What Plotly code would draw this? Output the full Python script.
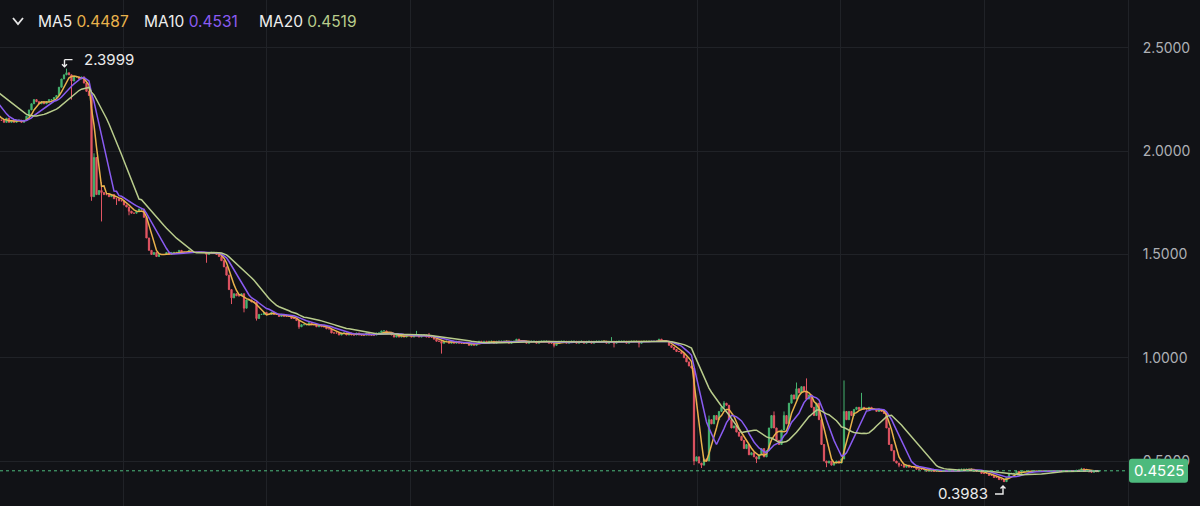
import plotly.graph_objects as go
import pandas as pd

# ---------------- data ----------------
# closes before the visible window (needed so the moving averages start correctly)
history_closes = [2.34, 2.35, 2.33, 2.34, 2.36, 2.35, 2.34, 2.33, 2.34, 2.33,
                  2.30, 2.29, 2.28, 2.26, 2.24, 2.20, 2.18, 2.17, 2.16, 2.15]
first_open = 2.34

closes = [
    2.15, 2.14, 2.16, 2.14, 2.15, 2.14, 2.15, 2.15, 2.14, 2.15, 2.17, 2.20, 2.23, 2.25, 2.24, 2.23, 2.24, 2.23, 2.24, 2.25,
    2.25, 2.26, 2.27, 2.31, 2.35, 2.37, 2.38, 2.37, 2.34, 2.36, 2.36, 2.35, 2.36, 2.33, 2.29, 2.27, 1.78, 1.97, 1.79, 1.81,
    1.80, 1.79, 1.79, 1.78, 1.79, 1.77, 1.77, 1.76, 1.76, 1.74, 1.73, 1.71, 1.70, 1.70, 1.71, 1.72, 1.72, 1.68, 1.58, 1.52,
    1.50, 1.51, 1.49, 1.50, 1.50, 1.50, 1.51, 1.50, 1.51, 1.51, 1.51, 1.52, 1.51, 1.51, 1.51, 1.52, 1.51, 1.51, 1.51, 1.51,
    1.51, 1.51, 1.50, 1.51, 1.51, 1.51, 1.50, 1.49, 1.47, 1.44, 1.40, 1.33, 1.29, 1.31, 1.30, 1.30, 1.31, 1.24, 1.28, 1.28,
    1.27, 1.27, 1.19, 1.21, 1.21, 1.22, 1.21, 1.21, 1.22, 1.21, 1.21, 1.20, 1.21, 1.20, 1.20, 1.20, 1.19, 1.19, 1.18, 1.15,
    1.16, 1.16, 1.16, 1.17, 1.16, 1.16, 1.15, 1.16, 1.15, 1.15, 1.14, 1.14, 1.12, 1.12, 1.12, 1.11, 1.12, 1.12, 1.11, 1.12,
    1.11, 1.11, 1.12, 1.11, 1.11, 1.11, 1.12, 1.11, 1.11, 1.11, 1.12, 1.12, 1.13, 1.13, 1.12, 1.12, 1.11, 1.10, 1.11, 1.10,
    1.11, 1.10, 1.11, 1.11, 1.10, 1.11, 1.11, 1.10, 1.11, 1.11, 1.10, 1.10, 1.10, 1.09, 1.08, 1.08, 1.07, 1.08, 1.08, 1.07,
    1.08, 1.07, 1.08, 1.07, 1.07, 1.07, 1.07, 1.06, 1.07, 1.06, 1.07, 1.08, 1.07, 1.08, 1.07, 1.08, 1.08, 1.07, 1.08, 1.08,
    1.08, 1.08, 1.08, 1.07, 1.08, 1.08, 1.09, 1.08, 1.08, 1.08, 1.07, 1.08, 1.08, 1.08, 1.07, 1.08, 1.08, 1.08, 1.08, 1.07,
    1.07, 1.06, 1.07, 1.08, 1.08, 1.08, 1.07, 1.08, 1.08, 1.08, 1.07, 1.08, 1.08, 1.07, 1.08, 1.08, 1.07, 1.08, 1.08, 1.08,
    1.08, 1.08, 1.07, 1.08, 1.08, 1.07, 1.08, 1.08, 1.08, 1.08, 1.07, 1.08, 1.08, 1.08, 1.08, 1.07, 1.08, 1.08, 1.08, 1.08,
    1.08, 1.08, 1.08, 1.09, 1.08, 1.08, 1.08, 1.06, 1.05, 1.04, 1.03, 1.03, 1.02, 1.00, 0.98, 0.96, 0.95, 0.50, 0.52, 0.49,
    0.48, 0.51, 0.50, 0.70, 0.68, 0.72, 0.70, 0.74, 0.76, 0.78, 0.77, 0.70, 0.66, 0.67, 0.64, 0.62, 0.60, 0.56, 0.58, 0.53,
    0.54, 0.52, 0.51, 0.53, 0.56, 0.52, 0.55, 0.66, 0.72, 0.66, 0.60, 0.58, 0.65, 0.72, 0.68, 0.78, 0.82, 0.80, 0.85, 0.83,
    0.86, 0.84, 0.80, 0.82, 0.76, 0.72, 0.78, 0.70, 0.58, 0.50, 0.49, 0.50, 0.48, 0.49, 0.50, 0.49, 0.51, 0.74, 0.70, 0.74,
    0.72, 0.75, 0.76, 0.75, 0.76, 0.75, 0.75, 0.76, 0.75, 0.75, 0.74, 0.75, 0.74, 0.73, 0.66, 0.58, 0.55, 0.50, 0.49, 0.48,
    0.48, 0.47, 0.48, 0.47, 0.47, 0.47, 0.46, 0.46, 0.46, 0.46, 0.45, 0.46, 0.45, 0.45, 0.45, 0.45, 0.45, 0.45, 0.45, 0.45,
    0.45, 0.45, 0.45, 0.46, 0.46, 0.46, 0.46, 0.46, 0.46, 0.45, 0.45, 0.45, 0.44, 0.44, 0.44, 0.43, 0.43, 0.42, 0.42, 0.41,
    0.41, 0.40, 0.42, 0.44, 0.44, 0.44, 0.45, 0.44, 0.45, 0.45, 0.45, 0.45, 0.45, 0.45, 0.45, 0.45, 0.45, 0.45, 0.45, 0.45,
    0.450, 0.451, 0.449, 0.452, 0.450, 0.451, 0.450, 0.452, 0.451, 0.451, 0.455, 0.456, 0.462, 0.460, 0.4545, 0.447, 0.446, 0.448, 0.450, 0.4525,
]

# notable wicks (visible candle index -> extreme)
wick_high_index = [26, 37, 40, 166, 171, 244, 283, 289, 309, 313, 318, 322, 337, 344, 432]
wick_high_value = [2.3999, 1.99, 1.85, 1.13, 1.12, 1.10, 0.72, 0.79, 0.74, 0.74, 0.88, 0.90, 0.89, 0.83, 0.467]
wick_low_index = [28, 36, 40, 46, 51, 82, 92, 97, 102, 119, 176, 221, 245, 255, 277, 280, 302, 330, 359, 401]
wick_low_value = [2.25, 1.76, 1.66, 1.74, 1.69, 1.46, 1.26, 1.22, 1.18, 1.14, 1.02, 1.05, 1.05, 1.05, 0.48, 0.466, 0.49, 0.47, 0.47, 0.3983]

ma_periods = [5, 10, 20]
ma_names = ["MA5", "MA10", "MA20"]
ma_colors = ["#e9b24c", "#8a5cf2", "#b9cc8c"]

y_ticks = [0.5, 1.0, 1.5, 2.0, 2.5]

# ---------------- build OHLC ----------------
n_hist = len(history_closes)
all_closes = history_closes + closes
x = list(range(-n_hist, len(closes)))
opens = [first_open] + all_closes[:-1]
highs = [max(o, c) for o, c in zip(opens, all_closes)]
lows = [min(o, c) for o, c in zip(opens, all_closes)]
for i, v in zip(wick_high_index, wick_high_value):
    highs[i + n_hist] = max(highs[i + n_hist], v)
for i, v in zip(wick_low_index, wick_low_value):
    lows[i + n_hist] = min(lows[i + n_hist], v)

s = pd.Series(all_closes)
mas = [s.rolling(p).mean() for p in ma_periods]

BG = "#111216"
GRID = "#202227"
GREEN = "#45b36f"
RED = "#e25563"
FONT = "Inter, Roboto, sans-serif"

fig = go.Figure()
fig.add_trace(go.Candlestick(
    x=x, open=opens, high=highs, low=lows, close=all_closes,
    increasing=dict(line=dict(color=GREEN, width=1), fillcolor=GREEN),
    decreasing=dict(line=dict(color=RED, width=1), fillcolor=RED),
    whiskerwidth=0, showlegend=False, hoverinfo="skip",
))
for m, name, col in zip(mas, ma_names, ma_colors):
    fig.add_trace(go.Scatter(x=x, y=m, mode="lines", name=name,
                             line=dict(color=col, width=1.5), showlegend=False,
                             hoverinfo="skip"))

PLOT_W = 1128
PLOT_H = 506
spacing_px = 2.5
x_left = -0.6
x_right = x_left + PLOT_W / spacing_px
grid_x = [48.6 + 57.4 * k for k in range(7)]

fig.update_layout(
    width=1200, height=506,
    margin=dict(l=0, r=1200 - PLOT_W, t=0, b=0),
    paper_bgcolor=BG, plot_bgcolor=BG,
    font=dict(family=FONT, color="#e6e6e6"),
    showlegend=False,
    xaxis=dict(range=[x_left, x_right], rangeslider=dict(visible=False),
               showticklabels=False, tickvals=grid_x, showgrid=True,
               gridcolor=GRID, gridwidth=1, zeroline=False, ticks=""),
    yaxis=dict(side="right", range=[0.2821, 2.7324], tickvals=y_ticks,
               ticktext=[f"{v:.4f}" for v in y_ticks], showgrid=True,
               gridcolor=GRID, gridwidth=1, zeroline=False, showline=True,
               linecolor=GRID, linewidth=1, ticks="", ticklabelstandoff=11,
               tickfont=dict(size=14, color="#aeb0b5", family=FONT)),
)

last = all_closes[-1]
# current price dashed line
fig.add_shape(type="line", xref="paper", x0=0, x1=1, yref="y", y0=last, y1=last,
              line=dict(color="#4dbb7e", width=1, dash="3px,3px"))
# current price box (rounded) + label
fig.add_shape(type="path", xref="paper", yref="y", xsizemode="pixel", ysizemode="pixel",
              xanchor=1, yanchor=last,
              path="M 4,12 L 57,12 Q 60,12 60,9 L 60,-9 Q 60,-12 57,-12 "
                   "L 4,-12 Q 1,-12 1,-9 L 1,9 Q 1,12 4,12 Z",
              fillcolor="#4dba7d", line=dict(width=0), layer="above")
fig.add_annotation(xref="paper", x=1, yref="y", y=last, text=f"{last:.4f}",
                   showarrow=False, xanchor="center", yanchor="middle", xshift=30.5,
                   font=dict(size=15, color="#ffffff", family=FONT))

# high / low markers
hi_val = max(highs)
hi_x = x[highs.index(hi_val)]
lo_val = min(lows)
lo_x = x[lows.index(lo_val)]
fig.add_annotation(x=hi_x, y=hi_val, text=f"{hi_val:.4f}", showarrow=False,
                   xanchor="left", yanchor="middle", xshift=15, yshift=9,
                   font=dict(size=15, color="#ececec", family=FONT))
fig.add_shape(type="path", xref="x", yref="y", xsizemode="pixel", ysizemode="pixel",
              xanchor=hi_x, yanchor=hi_val,
              path="M -2,9 L 6,9 M -2,9 L -2,2 M -4.5,4.5 L -2,2 L 0.5,4.5",
              line=dict(color="#ececec", width=1.4))
fig.add_annotation(x=lo_x, y=lo_val, text=f"{lo_val:.4f}", showarrow=False,
                   xanchor="right", yanchor="middle", xshift=-14, yshift=-11,
                   font=dict(size=15, color="#ececec", family=FONT))
fig.add_shape(type="path", xref="x", yref="y", xsizemode="pixel", ysizemode="pixel",
              xanchor=lo_x, yanchor=lo_val,
              path="M -9,-12 L -1,-12 L -1,-4 M -3.5,-6.5 L -1,-4 L 1.5,-6.5",
              line=dict(color="#ececec", width=1.4))

# MA legend (top-left)
fig.add_shape(type="path", xref="paper", yref="paper", xsizemode="pixel", ysizemode="pixel",
              xanchor=0, yanchor=1, path="M 13,-18 L 18,-24 L 23,-18",
              line=dict(color="#e6e6e6", width=1.8))
legend_x = [36, 142, 257]
for m, name, col, px in zip(mas, ma_names, ma_colors, legend_x):
    val = m.iloc[-1]
    fig.add_annotation(xref="paper", yref="paper", x=px / PLOT_W, y=1 - 22 / PLOT_H,
                       text=f"{name} <span style='color:{col}'>{val:.4f}</span>",
                       showarrow=False, xanchor="left", yanchor="middle",
                       font=dict(size=15.5, color="#eeeeee", family=FONT))

fig.write_html("out.html", config={"displayModeBar": False},
               post_script="document.body.style.margin='0';document.body.style.overflow='hidden';")
